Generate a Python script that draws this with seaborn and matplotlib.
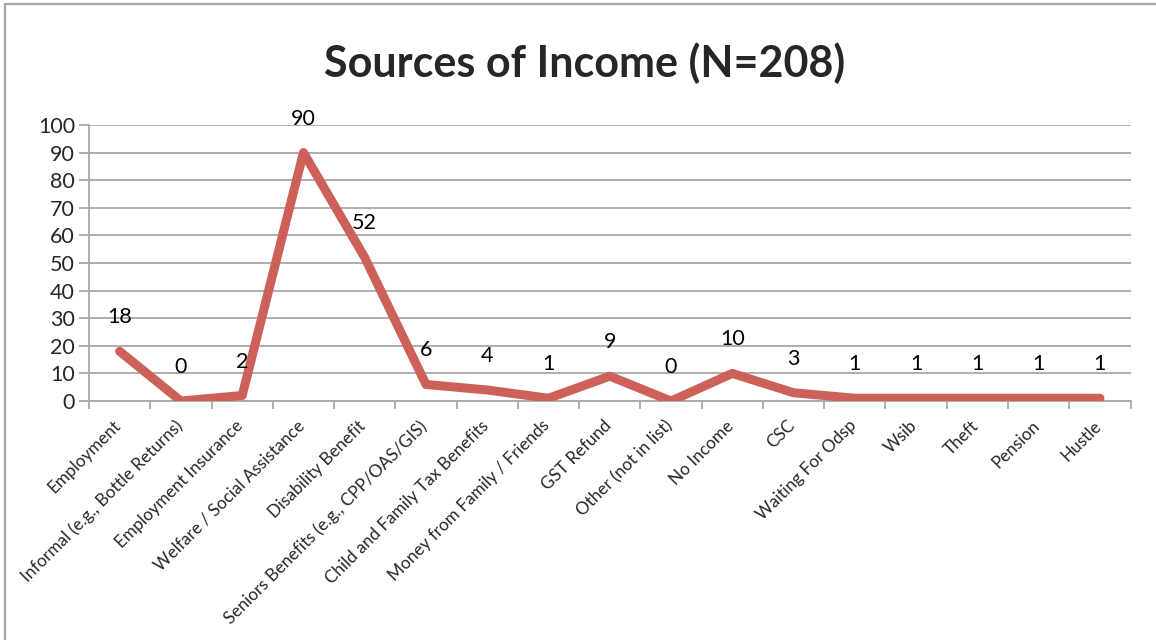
import matplotlib
matplotlib.use("Agg")
import matplotlib.pyplot as plt
import matplotlib.transforms as mtransforms
import pandas as pd
import seaborn as sns
from matplotlib.patches import Rectangle
from matplotlib.ticker import FixedLocator

categories = [
    "Employment",
    "Informal (e.g., Bottle Returns)",
    "Employment Insurance",
    "Welfare / Social Assistance",
    "Disability Benefit",
    "Seniors Benefits (e.g., CPP/OAS/GIS)",
    "Child and Family Tax Benefits",
    "Money from Family / Friends",
    "GST Refund",
    "Other (not in list)",
    "No Income",
    "CSC",
    "Waiting For Odsp",
    "Wsib",
    "Theft",
    "Pension",
    "Hustle",
]
counts = [18, 0, 2, 90, 52, 6, 4, 1, 9, 0, 10, 3, 1, 1, 1, 1, 1]
y_ticks = list(range(0, 101, 10))

df = pd.DataFrame({"Source": categories, "Count": counts})

sns.set_theme(style="white")
plt.rcParams["font.family"] = ["Lato", "DejaVu Sans"]

fig = plt.figure(figsize=(11.56, 6.4), dpi=100)
ax = fig.add_axes([0.077, 0.3734, 0.901, 0.4313])

# chart frame (cut off at right/bottom like the source)
fig.patches.append(Rectangle((5 / 1156, -0.1), 1.2, 1 - 4 / 640 + 0.1,
                             transform=fig.transFigure, fill=False,
                             edgecolor="#a6a6a6", linewidth=1.6, zorder=0))

line_color = "#cd615a"
grid_color = "#a8a8a8"

sns.lineplot(data=df, x="Source", y="Count", ax=ax, color=line_color,
             linewidth=6.5, solid_capstyle="round", solid_joinstyle="round",
             sort=False, zorder=3)

ax.set_xlim(-0.5, len(categories) - 0.5)
ax.set_ylim(0, 100)
ax.set_yticks(y_ticks)
ax.yaxis.grid(True, color=grid_color, linewidth=1.3)
ax.set_axisbelow(True)

for s in ["top", "right"]:
    ax.spines[s].set_visible(False)
for s in ["left", "bottom"]:
    ax.spines[s].set_color(grid_color)
    ax.spines[s].set_linewidth(1.3)

ax.set_xticks(range(len(categories)))
ax.set_xticklabels(categories, rotation=45, ha="right", rotation_mode="anchor",
                   fontsize=12.3)
ax.xaxis.set_minor_locator(FixedLocator([i - 0.5 for i in range(len(categories) + 1)]))
ax.tick_params(axis="x", which="major", length=0, pad=4)
ax.tick_params(axis="x", which="minor", length=6, width=1.3, color=grid_color,
               direction="out", bottom=True)
ax.tick_params(axis="y", length=7, width=1.3, color=grid_color, direction="out",
               left=True, labelsize=15.5, pad=3)

# nudge the rotated labels to sit like excel's
shift = mtransforms.ScaledTranslation(-7 / 100, -11 / 100, fig.dpi_scale_trans)
for lbl in ax.get_xticklabels():
    lbl.set_transform(lbl.get_transform() + shift)

ax.set_xlabel("")
ax.set_ylabel("")

# data labels above each point
for i, v in enumerate(counts):
    ax.annotate(str(v), (i, v), xytext=(0, 34), textcoords="offset pixels",
                ha="center", va="center", fontsize=15.5, color="black")

fig.text(0.506, 0.902, "Sources of Income (N=208)", ha="center", va="center",
         fontsize=31, fontweight="bold")

fig.savefig("out.png", dpi=100)
